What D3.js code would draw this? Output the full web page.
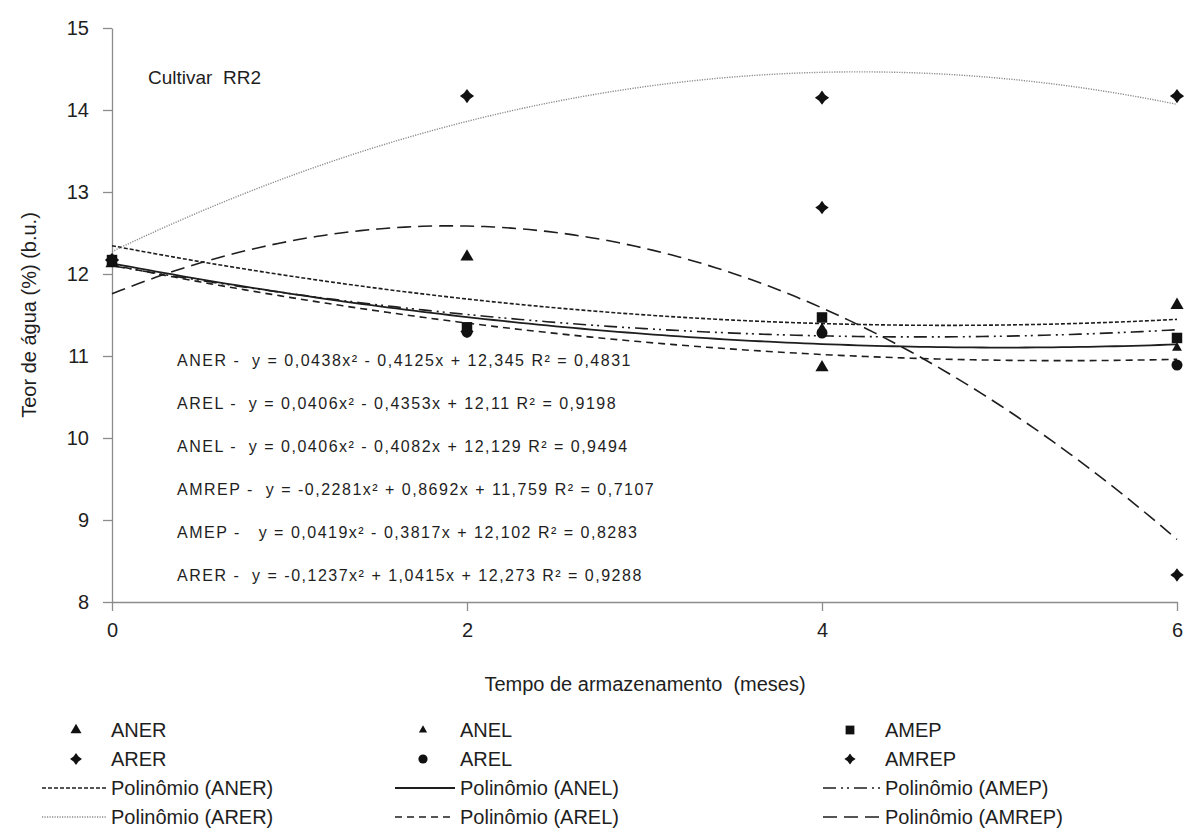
<!DOCTYPE html>
<html>
<head>
<meta charset="utf-8">
<script src="https://cdn.jsdelivr.net/npm/d3@7"></script>
<style>
  body { margin: 0; background: #fff; }
  svg { font-family: "Liberation Sans", Arial, sans-serif; }
  text { white-space: pre; }
</style>
</head>
<body>
<svg id="chart" width="1184" height="833"></svg>
<script>
// months of storage
const months = [0, 2, 4, 6];

// observed water content (%) per treatment
const aner = [12.13, 12.21, 10.86, 11.62];
const anel = [12.15, 11.31, 11.34, 11.1];
const amep = [12.17, 11.35, 11.47, 11.22];
const arer = [12.17, 14.17, 14.15, 14.17];
const arel = [12.17, 11.29, 11.28, 10.89];
const amrep = [12.17, 11.3, 12.81, 8.33];

// trendline coefficients [a, b, c] for y = a x^2 + b x + c, as printed
const anerFit = [0.0438, -0.4125, 12.345];
const arelFit = [0.0406, -0.4353, 12.11];
const anelFit = [0.0406, -0.4082, 12.129];
const amrepFit = [-0.2281, 0.8692, 11.759];
const amepFit = [0.0419, -0.3817, 12.102];
const arerFit = [-0.1237, 1.0415, 12.273];

const yTicks = [8, 9, 10, 11, 12, 13, 14, 15];
const xTicks = [0, 2, 4, 6];

const equations = [
  "ANER -  y = 0,0438x² - 0,4125x + 12,345 R² = 0,4831",
  "AREL -  y = 0,0406x² - 0,4353x + 12,11 R² = 0,9198",
  "ANEL -  y = 0,0406x² - 0,4082x + 12,129 R² = 0,9494",
  "AMREP -  y = -0,2281x² + 0,8692x + 11,759 R² = 0,7107",
  "AMEP -   y = 0,0419x² - 0,3817x + 12,102 R² = 0,8283",
  "ARER -  y = -0,1237x² + 1,0415x + 12,273 R² = 0,9288"
];

const svg = d3.select("#chart");
const ink = "#1e1e1e";

const x = d3.scaleLinear().domain([0, 6]).range([112, 1177]);
const y = d3.scaleLinear().domain([8, 15]).range([602, 28]);

// 4 pointed star used for ARER / AMREP
const star4 = {
  draw(ctx, size) {
    const r = Math.sqrt(size) * 0.75, ri = r * 0.42;
    ctx.moveTo(0, -r);
    ctx.lineTo(ri, -ri);
    ctx.lineTo(r, 0);
    ctx.lineTo(ri, ri);
    ctx.lineTo(0, r);
    ctx.lineTo(-ri, ri);
    ctx.lineTo(-r, 0);
    ctx.lineTo(-ri, -ri);
    ctx.closePath();
  }
};

const series = [
  { name: "ANER", values: aner, fit: anerFit, sym: d3.symbolTriangle, size: 75, dash: "4,2", color: ink, width: 1.6 },
  { name: "ANEL", values: anel, fit: anelFit, sym: d3.symbolTriangle, size: 42, dash: null, color: ink, width: 1.8 },
  { name: "AMEP", values: amep, fit: amepFit, sym: d3.symbolSquare, size: 110, dash: "13,5,2,4,2,5", color: ink, width: 1.6 },
  { name: "ARER", values: arer, fit: arerFit, sym: star4, size: 90, dash: "1.2,1.3", color: "#8a8a8a", width: 1.4 },
  { name: "AREL", values: arel, fit: arelFit, sym: d3.symbolCircle, size: 95, dash: "7,5", color: ink, width: 1.6 },
  { name: "AMREP", values: amrep, fit: amrepFit, sym: star4, size: 80, dash: "14,7", color: ink, width: 1.6 }
];

// axes
const yAxis = svg.append("g")
  .attr("transform", `translate(${x(0)},0)`)
  .call(d3.axisLeft(y).tickValues(yTicks).tickFormat(d3.format("d"))
    .tickSize(9).tickPadding(14).tickSizeOuter(0));
const xAxis = svg.append("g")
  .attr("transform", `translate(0,${y(8)})`)
  .call(d3.axisBottom(x).tickValues(xTicks).tickFormat(d3.format("d"))
    .tickSize(9).tickPadding(12).tickSizeOuter(0));

[yAxis, xAxis].forEach(g => {
  g.selectAll(".domain, line").attr("stroke", "#8c8c8c").attr("stroke-width", 1.3);
  g.selectAll("text").attr("font-size", 20).attr("fill", ink)
    .attr("font-family", "Liberation Sans, Arial, sans-serif");
});

// trendlines
const grid = d3.range(0, 6.0001, 0.05);
const line = d3.line().x(d => x(d[0])).y(d => y(d[1]));
series.forEach(s => {
  const pts = grid.map(t => [t, s.fit[0] * t * t + s.fit[1] * t + s.fit[2]]);
  svg.append("path")
    .attr("d", line(pts))
    .attr("fill", "none")
    .attr("stroke", s.color)
    .attr("stroke-width", s.width)
    .attr("stroke-dasharray", s.dash);
});

// markers
series.forEach(s => {
  svg.append("g").selectAll("path")
    .data(s.values)
    .join("path")
    .attr("transform", (d, i) => `translate(${x(months[i])},${y(d)})`)
    .attr("d", d3.symbol(s.sym, s.size))
    .attr("fill", "#111");
});

// labels
svg.append("text").attr("x", 148).attr("y", 84).attr("font-size", 19).attr("fill", ink)
  .text("Cultivar  RR2");

svg.append("text").attr("x", 645).attr("y", 691).attr("text-anchor", "middle")
  .attr("font-size", 20).attr("fill", ink).text("Tempo de armazenamento  (meses)");

svg.append("text").attr("transform", "translate(36,315) rotate(-90)")
  .attr("text-anchor", "middle").attr("font-size", 20).attr("fill", ink)
  .text("Teor de água (%) (b.u.)");

svg.append("g").selectAll("text")
  .data(equations)
  .join("text")
  .attr("x", 177)
  .attr("y", (d, i) => 366 + i * 43)
  .attr("font-size", 16)
  .attr("letter-spacing", 1.5)
  .attr("fill", ink)
  .text(d => d);

// legend: three columns, 4 rows
const legendCols = [
  { mx: 76, lx0: 42, lx1: 107, tx: 111 },
  { mx: 423, lx0: 395, lx1: 455, tx: 460 },
  { mx: 850, lx0: 823, lx1: 882, tx: 885 }
];
const legendRows = [730, 759, 788, 817];
const markerOrder = ["ANER", "ANEL", "AMEP", "ARER", "AREL", "AMREP"];
const lg = svg.append("g");
markerOrder.forEach((name, i) => {
  const s = series.find(d => d.name === name);
  const col = legendCols[i % 3];
  const ry = legendRows[Math.floor(i / 3)];
  lg.append("path")
    .attr("transform", `translate(${col.mx},${ry})`)
    .attr("d", d3.symbol(s.sym, s.size * 0.7))
    .attr("fill", "#111");
  lg.append("text").attr("x", col.tx).attr("y", ry + 7)
    .attr("font-size", 20).attr("fill", ink).text(name);
});
markerOrder.forEach((name, i) => {
  const s = series.find(d => d.name === name);
  const col = legendCols[i % 3];
  const ry = legendRows[2 + Math.floor(i / 3)];
  lg.append("line")
    .attr("x1", col.lx0).attr("x2", col.lx1).attr("y1", ry).attr("y2", ry)
    .attr("stroke", s.color).attr("stroke-width", s.width)
    .attr("stroke-dasharray", s.dash);
  lg.append("text").attr("x", col.tx).attr("y", ry + 7)
    .attr("font-size", 20).attr("fill", ink).text(`Polinômio (${name})`);
});
</script>
</body>
</html>
